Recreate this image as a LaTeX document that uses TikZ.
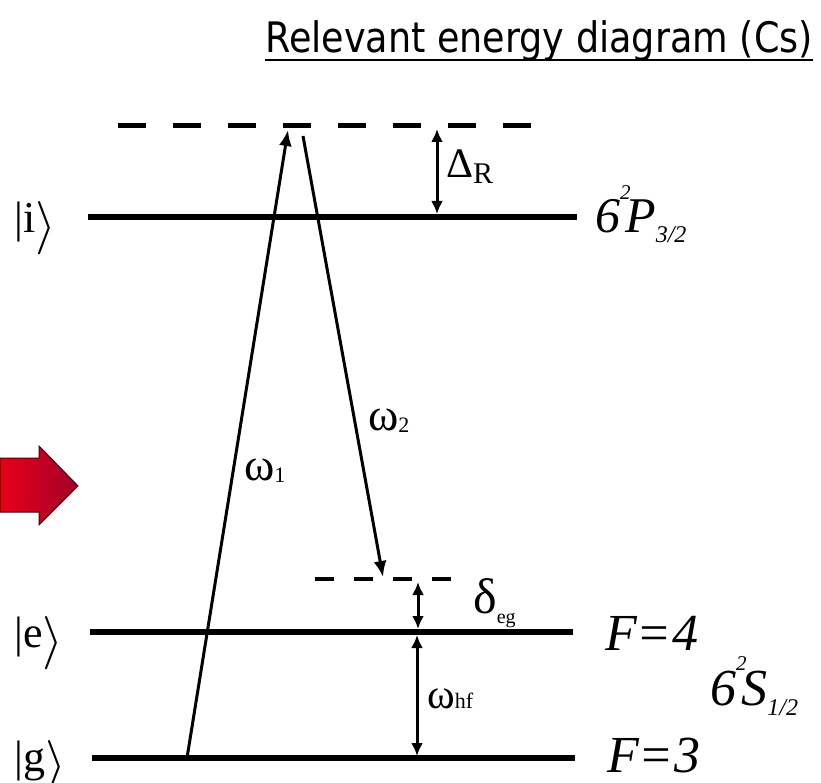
\documentclass[tikz,border=0pt]{standalone}
\usepackage{fontspec}
\setmainfont{Liberation Serif}
\newfontfamily\titlefont[FakeStretch=0.87]{DejaVu Sans}
\usetikzlibrary{arrows.meta}

% size helper
\newcommand{\fsz}[1]{\fontsize{#1}{#1}\selectfont}
% tall ket bracket
\newcommand{\rket}{\raisebox{-9pt}{\resizebox{!}{40pt}{$\rangle$}}}
% term symbol 6^2 X_{j}
\newcommand{\termsym}[2]{6\rlap{\raisebox{0.66em}{\fsz{21}2}}\kern0.1em #1\raisebox{-0.2em}{\fsz{24}#2}}

\begin{document}
\begin{tikzpicture}[x=1pt,y=-1pt,
  level/.style={line width=6pt},
  virt/.style={line width=5pt,dash pattern=on 28pt off 27pt},
  beam/.style={line width=3pt,-{Latex[length=16pt,width=13pt]}},
  gap/.style={line width=3pt,{Latex[length=13pt,width=12pt]}-{Latex[length=13pt,width=12pt]}},
  ket/.style={font=\fsz{44},inner sep=0pt,anchor=base west},
  lab/.style={inner sep=0pt,anchor=base west}]
  \useasboundingbox (0,0) rectangle (821,783);

  % title
  \node[inner sep=0pt,anchor=base,font=\titlefont\fsz{42}] (title) at (539,53)
    {Relevant energy diagram (Cs)};
  \draw[line width=2.5pt] ([yshift=-7pt]title.base west) -- ([yshift=-7pt]title.base east);

  % red arrow on the left
  \shadedraw[left color={rgb,255:red,232;green,0;blue,24},
    right color={rgb,255:red,162;green,0;blue,40},
    draw={rgb,255:red,70;green,0;blue,10},line width=1pt]
    (0,458) -- (39,458) -- (39,446) -- (78,486) -- (39,525) -- (39,512) -- (0,512) -- cycle;

  % levels
  \coordinate (iL) at (88,217);  \coordinate (iR) at (577,217);
  \coordinate (eL) at (90,632);  \coordinate (eR) at (573,632);
  \coordinate (gL) at (92,758);  \coordinate (gR) at (575,758);
  \draw[level] (iL) -- (iR);
  \draw[level] (eL) -- (eR);
  \draw[level] (gL) -- (gR);

  % virtual levels
  \coordinate (vL) at (118,126); \coordinate (vR) at (532,126);
  \coordinate (dL) at (315,579); \coordinate (dR) at (452,579);
  \draw[virt] (vL) -- (vR);
  \draw[line width=4pt,dash pattern=on 19pt off 20pt] (dL) -- (dR);

  % kets
  \node[ket] (ki) at (14,233) {|i\rket};
  \node[ket] (ke) at (14,647) {|e\rket};
  \node[ket] (kg) at (14,771) {|g\rket};

  % laser beams
  \coordinate (w1a) at (187,758); \coordinate (w1b) at (288,130);
  \coordinate (w2a) at (303,136); \coordinate (w2b) at (383,577);
  \draw[beam] (w1a) -- (w1b);
  \draw[beam] (w2a) -- (w2b);
  \node[lab] (w1) at (244,480) {\fsz{46}ω\raisebox{-2pt}{\fsz{22}1}};
  \node[lab] (w2) at (368,430) {\fsz{46}ω\raisebox{-2pt}{\fsz{22}2}};

  % detunings and splitting
  \coordinate (dRa) at (437,129); \coordinate (dRb) at (437,214);
  \coordinate (dea) at (418,582); \coordinate (deb) at (418,629);
  \coordinate (hfa) at (417,635); \coordinate (hfb) at (417,756);
  \draw[gap] (dRa) -- (dRb);
  \draw[gap] (dea) -- (deb);
  \draw[gap] (hfa) -- (hfb);
  \node[lab] (DR) at (446,178) {\fsz{42}Δ\raisebox{-0.12em}{\fsz{30}R}};
  \node[lab] (deg) at (473,613) {\fsz{50}δ\raisebox{-0.2em}{\fsz{20}eg}};
  \node[lab] (whf) at (427,708) {\fsz{42}ω\fsz{22}hf};

  % state labels
  \node[lab,font=\fsz{50}\itshape] (P32) at (595,233) {\termsym{P}{3/2}};
  \node[lab,font=\fsz{52}\itshape] (F4) at (605,650) {F=4};
  \node[lab,font=\fsz{52}\itshape] (F3) at (607,772) {F=3};
  \node[lab,font=\fsz{52}\itshape] (S12) at (710,705) {\termsym{S}{1/2}};
\end{tikzpicture}
\end{document}
